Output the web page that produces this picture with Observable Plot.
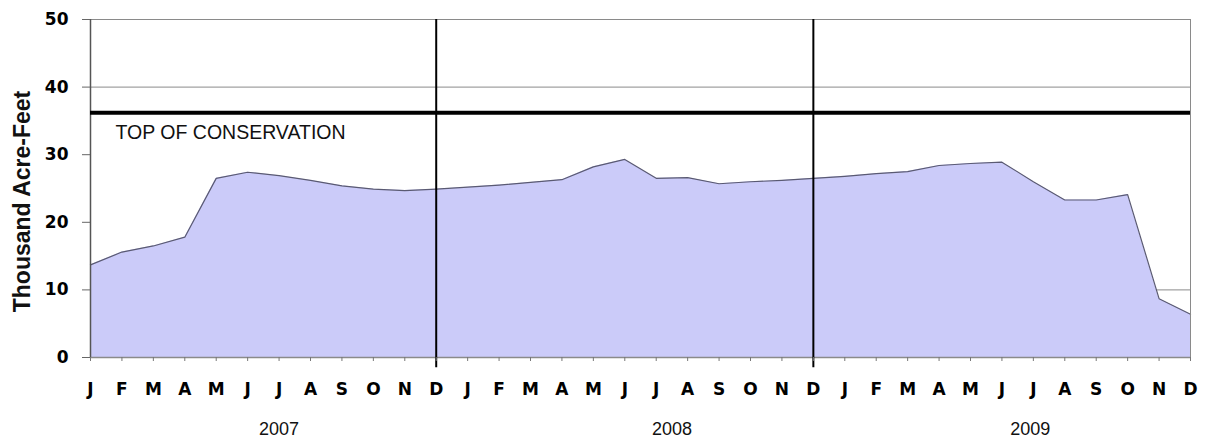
<!DOCTYPE html>
<html>
<head>
<meta charset="utf-8">
<script src="https://cdn.jsdelivr.net/npm/d3@7"></script>
<script src="https://cdn.jsdelivr.net/npm/@observablehq/plot@0.6"></script>
<style>
  html, body { margin: 0; padding: 0; background: #fff; }
  #chart svg { display: block; }
</style>
</head>
<body>
<div id="chart"></div>
<script>
// Monthly storage, thousand acre-feet (Jan 2007 .. Dec 2009)
const monthLetters = ["J","F","M","A","M","J","J","A","S","O","N","D"];
const years = ["2007", "2008", "2009"];
const yearLabelAt = [6, 18.5, 29.9];
const storage2007 = [13.7, 15.6, 16.5, 17.8, 26.5, 27.4, 26.9, 26.2, 25.4, 24.9, 24.7, 24.9];
const storage2008 = [25.2, 25.5, 25.9, 26.3, 28.2, 29.3, 26.5, 26.6, 25.7, 26.0, 26.2, 26.5];
const storage2009 = [26.8, 27.2, 27.5, 28.4, 28.7, 28.9, 26.0, 23.3, 23.3, 24.1, 8.7, 6.4];
const topOfConservation = 36.2;
const yTicks = [0, 10, 20, 30, 40, 50];
const gridValues = [10, 40, 50];
const yearDividers = [11, 23];
const yLabel = "Thousand Acre-Feet";
const conservationLabel = "TOP OF CONSERVATION";

const values = [...storage2007, ...storage2008, ...storage2009];
const data = values.map((v, i) => ({i, v}));
const xTicks = d3.range(values.length);
const yearData = years.map((y, k) => ({year: y, at: yearLabelAt[k]}));

const boldTick = "DejaVu Sans, sans-serif";

const chart = Plot.plot({
  width: 1207,
  height: 441,
  marginLeft: 90,
  marginRight: 17,
  marginTop: 19,
  marginBottom: 84,
  style: {background: "#fff", color: "#000"},
  x: {domain: [0, values.length - 1], axis: null},
  y: {domain: [0, 50], axis: null},
  marks: [
    Plot.ruleY(gridValues, {stroke: "#8a8a8a", strokeWidth: 1}),
    Plot.areaY(data, {x: "i", y: "v", fill: "#cbcbf9"}),
    Plot.lineY(data, {x: "i", y: "v", stroke: "#5a5a72", strokeWidth: 1.2}),
    Plot.ruleX([values.length - 1], {stroke: "#8a8a8a", strokeWidth: 1}),
    Plot.ruleY([0], {stroke: "#8a8a8a", strokeWidth: 1.5}),
    Plot.ruleX([0], {stroke: "#555", strokeWidth: 1.5}),
    Plot.ruleX(yearDividers, {y1: 50, y2: -1.5, stroke: "#000", strokeWidth: 2}),
    Plot.ruleY([topOfConservation], {stroke: "#000", strokeWidth: 4}),
    Plot.text([conservationLabel], {x: 0, y: topOfConservation, dx: 25, dy: 20, textAnchor: "start",
      fontFamily: "Liberation Sans, Arial, sans-serif", fontSize: 19.5, fill: "#111"}),
    Plot.axisY({ticks: yTicks, tickSize: 8, tickPadding: 14, tickFormat: d => d, stroke: "#666",
      fontFamily: boldTick, fontWeight: "bold", fontSize: 17, label: null}),
    Plot.axisX({ticks: xTicks, tickSize: 4, tickPadding: 21, stroke: "#777",
      tickFormat: i => monthLetters[i % 12],
      fontFamily: boldTick, fontWeight: "bold", fontSize: 17, label: null}),
    Plot.text(yearData, {x: "at", y: 0, text: "year", dy: 72, fontFamily: "Liberation Sans, Arial, sans-serif",
      fontSize: 18, fill: "#111"}),
    Plot.text([yLabel], {frameAnchor: "left", textAnchor: "middle", dx: -68, dy: 13, rotate: -90,
      fontFamily: "Liberation Sans, Arial, sans-serif", fontWeight: "bold", fontSize: 23, fill: "#111"})
  ]
});
document.getElementById("chart").appendChild(chart);
</script>
</body>
</html>
